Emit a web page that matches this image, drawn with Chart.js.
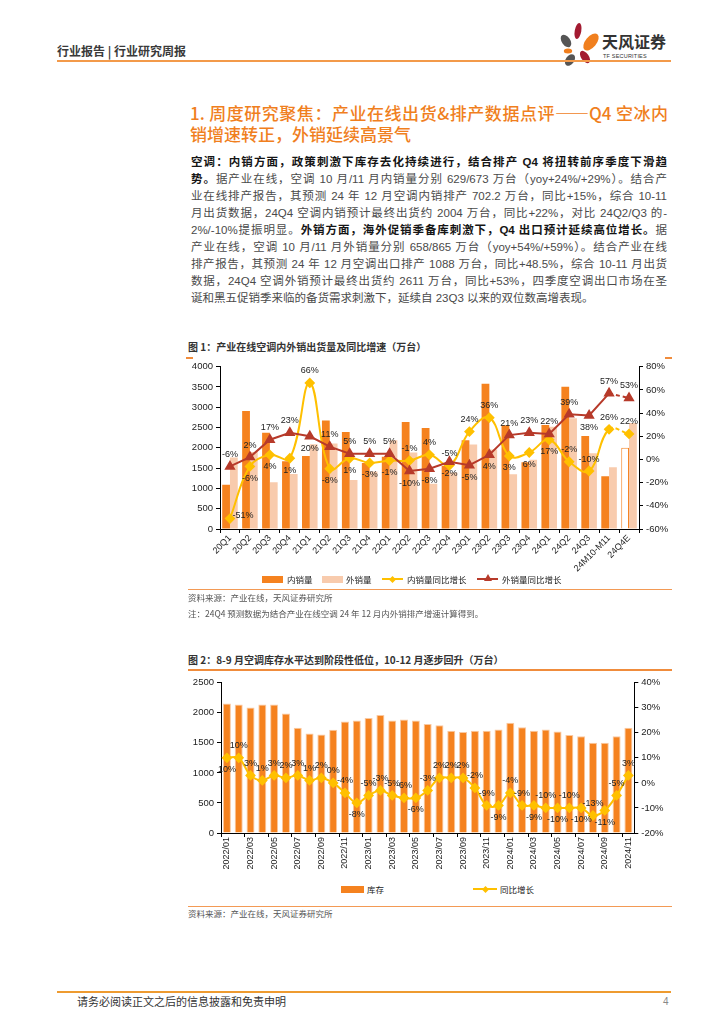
<!DOCTYPE html>
<html lang="zh-CN">
<head>
<meta charset="utf-8">
<title>行业研究周报</title>
<script src="https://cdn.jsdelivr.net/npm/chart.js@4.4.1/dist/chart.umd.min.js"></script>
<style>
  html, body { margin: 0; padding: 0; background: #fff; }
  body { width: 724px; height: 1024px; position: relative; overflow: hidden;
         font-family: "Liberation Sans", "Noto Sans CJK SC", sans-serif; color: #333; }
  .abs { position: absolute; }
  .ln { position: absolute; left: 191px; width: 476px; height: 17.1px; line-height: 17.1px;
        font-size: 11.5px; color: #4a4a4a; text-align: justify; text-align-last: justify; }
  .ln b { color: #151515; }
  .ttl { position: absolute; left: 190px; width: 478px; font-size: 17px; color: #F07F1E;
         font-weight: 500; line-height: 21px; font-family: "Noto Sans CJK SC", sans-serif; }
  .cap { position: absolute; left: 188px; font-size: 10px; font-weight: bold; color: #333;
         font-family: "Noto Sans CJK SC", sans-serif; line-height: 14px; }
  .src { position: absolute; left: 188px; font-size: 8.5px; color: #555; line-height: 12px;
         font-family: "Noto Sans CJK SC", sans-serif; }
  .oline { position: absolute; left: 188px; width: 484px; height: 1px; background: #F39A55; }
  .lgt { position: absolute; font-size: 8.5px; color: #222; line-height: 12px;
         font-family: "Noto Sans CJK SC", sans-serif; }
  .sw { position: absolute; height: 7px; }
  .sl { position: absolute; height: 2px; }
  .dia { position: absolute; width: 5px; height: 5px; transform: rotate(45deg); }
  .tri { position: absolute; width: 0; height: 0; border-left: 4px solid transparent;
         border-right: 4px solid transparent; border-bottom: 7px solid #B73A2A; }
  .chartbox { position: absolute; }
</style>
</head>
<body>

<!-- header -->
<div class="abs" style="left:57px;top:43px;font-size:12px;font-weight:bold;color:#3a3a3a;font-family:'Noto Sans CJK SC',sans-serif;line-height:16px;">行业报告 | 行业研究周报</div>
<svg class="abs" style="left:550px;top:18px;" width="60" height="52" viewBox="550 18 60 52">
  <ellipse cx="578" cy="31" rx="3.3" ry="8" fill="#A31B31" transform="rotate(10 578 31)"/>
  <ellipse cx="591" cy="42" rx="5.5" ry="10" fill="#F07F1E" transform="rotate(40 591 42)"/>
  <ellipse cx="566" cy="41" rx="4.2" ry="7" fill="#555" transform="rotate(-35 566 41)"/>
  <ellipse cx="568" cy="51" rx="4.2" ry="2.5" fill="#F07F1E"/>
  <ellipse cx="570" cy="60" rx="4.2" ry="6.5" fill="#555" transform="rotate(35 570 60)"/>
  <ellipse cx="585" cy="57" rx="3.8" ry="7" fill="#A31B31" transform="rotate(-35 585 57)"/>
</svg>
<div class="abs" style="left:602px;top:31px;font-size:16px;font-weight:bold;color:#333;font-family:'Noto Sans CJK SC',sans-serif;line-height:20px;">天风证券</div>
<div class="abs" style="left:603px;top:52px;font-size:5.5px;color:#333;letter-spacing:0.2px;line-height:8px;">TF SECURITIES</div>
<div class="abs" style="left:57px;top:60px;width:614px;height:2px;background:#F39A4A;"></div>

<!-- heading -->
<div class="ttl" style="top:102px;text-align:justify;text-align-last:justify;">1. 周度研究聚焦：产业在线出货&amp;排产数据点评——Q4 空冰内</div>
<div class="ttl" style="top:123px;">销增速转正，外销延续高景气</div>

<!-- body text -->
<div class="ln" style="top:153.5px;"><b>空调：内销方面，政策刺激下库存去化持续进行，结合排产 Q4 将扭转前序季度下滑趋</b></div>
<div class="ln" style="top:170.6px;"><b>势。</b>据产业在线，空调 10 月/11 月内销量分别 629/673 万台（yoy+24%/+29%）。结合产</div>
<div class="ln" style="top:187.7px;">业在线排产报告，其预测 24 年 12 月空调内销排产 702.2 万台，同比+15%，综合 10-11</div>
<div class="ln" style="top:204.8px;">月出货数据，24Q4 空调内销预计最终出货约 2004 万台，同比+22%，对比 24Q2/Q3 的-</div>
<div class="ln" style="top:221.9px;">2%/-10%提振明显。<b>外销方面，海外促销季备库刺激下，Q4 出口预计延续高位增长。</b>据</div>
<div class="ln" style="top:239.0px;">产业在线，空调 10 月/11 月外销量分别 658/865 万台（yoy+54%/+59%）。结合产业在线</div>
<div class="ln" style="top:256.1px;">排产报告，其预测 24 年 12 月空调出口排产 1088 万台，同比+48.5%，综合 10-11 月出货</div>
<div class="ln" style="top:273.2px;">数据，24Q4 空调外销预计最终出货约 2611 万台，同比+53%，四季度空调出口市场在圣</div>
<div class="ln" style="top:290.3px;text-align:left;text-align-last:left;">诞和黑五促销季来临的备货需求刺激下，延续自 23Q3 以来的双位数高增表现。</div>

<!-- figure 1 -->
<div class="cap" style="top:340px;">图 1：产业在线空调内外销出货量及同比增速（万台）</div>
<div class="abs" style="left:186px;top:357px;width:7px;height:1.5px;background:#F08C3C;"></div>
<div class="abs" style="left:665px;top:357px;width:7px;height:1.5px;background:#F08C3C;"></div>
<div class="chartbox" style="left:180px;top:358px;width:500px;height:226px;"><canvas id="shipChart"></canvas></div>

<div class="sw" style="left:262px;top:575.5px;width:21px;background:#F5821F;"></div>
<div class="lgt" style="left:287px;top:573px;">内销量</div>
<div class="sw" style="left:322px;top:575.5px;width:21px;background:#F8CBAD;"></div>
<div class="lgt" style="left:346px;top:573px;">外销量</div>
<div class="sl" style="left:382px;top:578px;width:21px;background:#FFC000;"></div>
<div class="dia" style="left:390px;top:576.5px;background:#FFC000;"></div>
<div class="lgt" style="left:407px;top:573px;">内销量同比增长</div>
<div class="sl" style="left:477px;top:578px;width:21px;background:#B73A2A;"></div>
<div class="tri" style="left:483.5px;top:574px;"></div>
<div class="lgt" style="left:502px;top:573px;">外销量同比增长</div>

<div class="oline" style="top:589px;"></div>
<div class="src" style="top:591px;">资料来源：产业在线，天风证券研究所</div>
<div class="src" style="top:607px;">注：24Q4 预测数据为结合产业在线空调 24 年 12 月内外销排产增速计算得到。</div>

<!-- figure 2 -->
<div class="cap" style="top:653px;">图 2：8-9 月空调库存水平达到阶段性低位，10-12 月逐步回升（万台）</div>
<div class="abs" style="left:188px;top:669px;width:484px;height:1.5px;background:#F08C3C;"></div>
<div class="chartbox" style="left:180px;top:672px;width:500px;height:208px;"><canvas id="stockChart"></canvas></div>

<div class="sw" style="left:341px;top:885.5px;width:23px;background:#F5821F;"></div>
<div class="lgt" style="left:367px;top:883px;">库存</div>
<div class="sl" style="left:473px;top:888px;width:24px;background:#FFC000;"></div>
<div class="dia" style="left:482.5px;top:886.5px;background:#FFC000;"></div>
<div class="lgt" style="left:500px;top:883px;">同比增长</div>

<div class="oline" style="top:906px;"></div>
<div class="src" style="top:907px;">资料来源：产业在线，天风证券研究所</div>

<!-- footer -->
<div class="abs" style="left:57px;top:991px;width:614px;height:2px;background:#EE9B30;"></div>
<div class="abs" style="left:77px;top:994px;font-size:11px;color:#333;font-family:'Noto Sans CJK SC',sans-serif;line-height:15px;">请务必阅读正文之后的信息披露和免责申明</div>
<div class="abs" style="left:663px;top:994px;font-size:10px;color:#888;line-height:15px;">4</div>

<script>
// 图1 数据
const quarters = ['20Q1', '20Q2', '20Q3', '20Q4', '21Q1', '21Q2', '21Q3', '21Q4', '22Q1', '22Q2', '22Q3',
                  '22Q4', '23Q1', '23Q2', '23Q3', '23Q4', '24Q1', '24Q2', '24Q3', '24M10-M11', '24Q4E'];
const domestic = [1090, 2910, 2370, 1670, 1800, 2675, 2390, 1625, 1780, 2635, 2490,
                  1555, 2190, 3580, 2555, 1645, 2565, 3505, 2290, 1302, 2004];
const exportVol = [1760, 1895, 1150, 1355, 2090, 2105, 1210, 1420, 2190, 1885, 1115,
                   1393, 2083, 1960, 1350, 1705, 2520, 2728, 1867, 1523, 2611];
const domYoy = [-51, -6, 4, 1, 66, -8, 1, -3, -1, -1, 4, -5, 24, 36, 3, 6, 17, -2, -10, 26, 22];
const expYoy = [-6, 2, 17, 23, 20, 11, 5, 5, 5, -10, -8, -2, -5, 4, 21, 23, 22, 39, 38, 57, 53];
const shipTicksLeft = [0, 4000, 500];
const shipTicksRight = [-60, 80, 20];

// 图2 数据
const months = ['2022/01', '2022/02', '2022/03', '2022/04', '2022/05', '2022/06', '2022/07', '2022/08', '2022/09',
                '2022/10', '2022/11', '2022/12', '2023/01', '2023/02', '2023/03', '2023/04', '2023/05', '2023/06',
                '2023/07', '2023/08', '2023/09', '2023/10', '2023/11', '2023/12', '2024/01', '2024/02', '2024/03',
                '2024/04', '2024/05', '2024/06', '2024/07', '2024/08', '2024/09', '2024/10', '2024/11'];
const stock = [2156, 2139, 2089, 2139, 2139, 1989, 1750, 1656, 1639, 1717, 1856, 1872, 1911, 1961, 1872, 1889, 1872, 1811,
               1794, 1700, 1678, 1700, 1700, 1722, 1833, 1761, 1700, 1722, 1689, 1628, 1611, 1500, 1500, 1611, 1750];
const stockYoy = [10, 10, 3, 1, 3, 2, 3, 1, 2, 0, -4, -8, -5, -3, -5, -6, -6, -3,
                  2, 2, 2, -2, -9, -9, -4, -9, -9, -10, -10, -10, -10, -13, -11, -5, 3];
const stockTicksLeft = [0, 2500, 500];
const stockTicksRight = [-20, 40, 10];

// label placement: a = above, b = below, r = right
const domYoyPos = 'rbbbabbbbaaaaabbbaaaa'.split('');
const expYoyPos = 'aaaabaaaabbbbbaaaabaa'.split('');
const stockYoyPos = 'baaaaaaaaaabaaaabaaaaaabaababababaa'.split('');

Chart.defaults.font.family = '"Liberation Sans", "Noto Sans CJK SC", sans-serif';
Chart.defaults.color = '#222';

const pointLabels = {
    id: 'pointLabels',
    afterDatasetsDraw(chart) {
        const ctx = chart.ctx;
        ctx.save();
        ctx.font = '9px "Liberation Sans", sans-serif';
        ctx.fillStyle = '#222';
        ctx.textAlign = 'center';
        ctx.textBaseline = 'middle';
        chart.data.datasets.forEach((ds, i) => {
            if (!ds.labelPos) return;
            chart.getDatasetMeta(i).data.forEach((pt, j) => {
                let x = pt.x, y = pt.y;
                const pos = ds.labelPos[j];
                if (pos === 'a') y -= 12;
                else if (pos === 'b') y += 12;
                else if (pos === 'r') { x += 13; y -= 3; }
                ctx.fillText(ds.data[j] + '%', x, y);
            });
        });
        ctx.restore();
    }
};

function axisY(ticks, pos, width, pct) {
    return {
        position: pos,
        min: ticks[0],
        max: ticks[1],
        ticks: { stepSize: ticks[2], font: { size: 9.5 }, padding: 3, color: '#222',
                 callback: v => pct ? v + '%' : v },
        grid: { drawOnChartArea: false, tickLength: 4, color: '#000' },
        border: { color: '#000' },
        afterFit: s => { s.width = width; }
    };
}

const last = quarters.length - 1;
const dash = c => c.p1DataIndex === last ? [4, 3] : undefined;

new Chart(document.getElementById('shipChart'), {
    data: {
        labels: quarters,
        datasets: [{
            type: 'bar',
            label: '内销量',
            data: domestic,
            backgroundColor: c => c.dataIndex === last ? '#fff' : '#F5821F',
            borderColor: '#F5821F',
            borderWidth: c => c.dataIndex === last ? 1 : 0,
            barPercentage: 1,
            categoryPercentage: 0.78,
            order: 3
        }, {
            type: 'bar',
            label: '外销量',
            data: exportVol,
            backgroundColor: '#F8CBAD',
            borderWidth: 0,
            barPercentage: 1,
            categoryPercentage: 0.78,
            order: 3
        }, {
            type: 'line',
            label: '内销量同比增长',
            data: domYoy,
            yAxisID: 'y1',
            borderColor: '#FFC000',
            backgroundColor: '#FFC000',
            borderWidth: 2,
            pointStyle: 'rectRot',
            pointRadius: 4,
            tension: 0.4,
            segment: { borderDash: dash },
            labelPos: domYoyPos,
            order: 2
        }, {
            type: 'line',
            label: '外销量同比增长',
            data: expYoy,
            yAxisID: 'y1',
            borderColor: '#B73A2A',
            backgroundColor: '#B73A2A',
            borderWidth: 2,
            pointStyle: 'triangle',
            pointRadius: 4.5,
            tension: 0,
            segment: { borderDash: dash },
            labelPos: expYoyPos,
            order: 1
        }]
    },
    options: {
        responsive: true,
        maintainAspectRatio: false,
        animation: false,
        layout: { padding: { top: 6, bottom: 10, left: 0, right: 0 } },
        plugins: { legend: { display: false }, tooltip: { enabled: false } },
        scales: {
            x: {
                grid: { drawOnChartArea: false, tickLength: 4, color: '#000' },
                border: { color: '#000' },
                ticks: { font: { size: 9 }, minRotation: 45, maxRotation: 45, autoSkip: false, padding: 0 },
                afterFit: s => { s.height = 45; }
            },
            y: axisY(shipTicksLeft, 'left', 40, false),
            y1: axisY(shipTicksRight, 'right', 41, true)
        }
    },
    plugins: [pointLabels]
});

new Chart(document.getElementById('stockChart'), {
    data: {
        labels: months,
        datasets: [{
            type: 'bar',
            label: '库存',
            data: stock,
            backgroundColor: '#F5821F',
            borderColor: '#F9C9A2',
            borderWidth: 1,
            barPercentage: 0.68,
            categoryPercentage: 1,
            order: 2
        }, {
            type: 'line',
            label: '同比增长',
            data: stockYoy,
            yAxisID: 'y1',
            borderColor: '#FFC000',
            backgroundColor: '#FFC000',
            borderWidth: 2,
            pointStyle: 'rectRot',
            pointRadius: 4,
            tension: 0.35,
            labelPos: stockYoyPos,
            order: 1
        }]
    },
    options: {
        responsive: true,
        maintainAspectRatio: false,
        animation: false,
        layout: { padding: { top: 10.7, bottom: 2, left: 0, right: 0 } },
        plugins: { legend: { display: false }, tooltip: { enabled: false } },
        scales: {
            x: {
                grid: { drawOnChartArea: false, tickLength: 4,
                        color: c => c.index % 2 === 0 ? '#000' : 'rgba(0,0,0,0)' },
                border: { color: '#000' },
                ticks: { font: { size: 9 }, minRotation: 90, maxRotation: 90, autoSkip: false, padding: 0,
                         callback: (v, i) => i % 2 === 0 ? months[i] : '' },
                afterFit: s => { s.height = 45; }
            },
            y: axisY(stockTicksLeft, 'left', 41, false),
            y1: axisY(stockTicksRight, 'right', 45.7, true)
        }
    },
    plugins: [pointLabels]
});
</script>
</body>
</html>
